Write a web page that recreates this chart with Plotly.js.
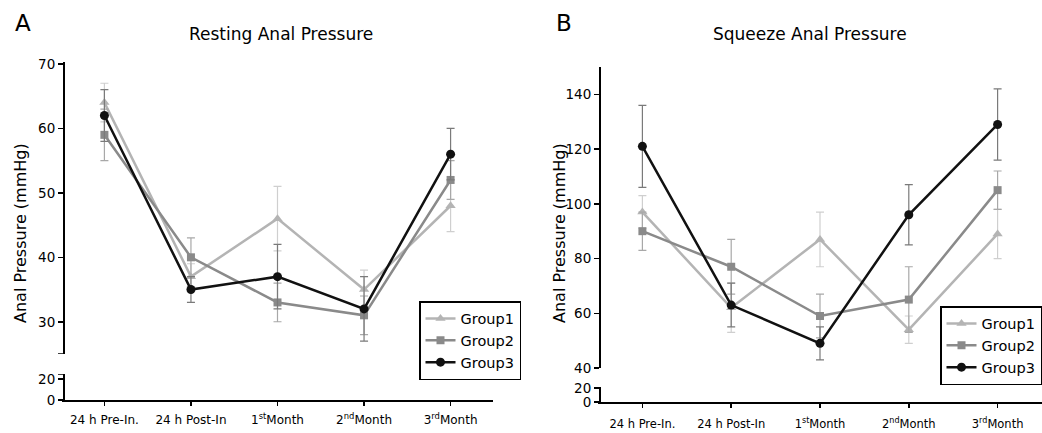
<!DOCTYPE html>
<html>
<head>
<meta charset="utf-8">
<script src="https://cdn.plot.ly/plotly-3.0.1.min.js"></script>
<style>html,body{margin:0;padding:0;background:#fff;}#chart{width:1042px;height:433px;}</style>
</head>
<body>
<div id="chart"></div>
<script>
// ---- data ----
const categories = ['24 h Pre-In.', '24 h Post-In', '1<sup>st</sup>Month', '2<sup>nd</sup>Month', '3<sup>rd</sup>Month'];
const groupNames = ['Group1', 'Group2', 'Group3'];

const restingG1 = [64, 37, 46, 35, 48];
const restingG1Err = [3, 2, 5, 3, 4];
const restingG2 = [59, 40, 33, 31, 52];
const restingG2Err = [4, 3, 3, 3, 3];
const restingG3 = [62, 35, 37, 32, 56];
const restingG3Err = [4, 2, 5, 5, 4];

const squeezeG1 = [97, 62, 87, 54, 89];
const squeezeG1Err = [6, 9, 10, 5, 9];
const squeezeG2 = [90, 77, 59, 65, 105];
const squeezeG2Err = [7, 10, 8, 12, 7];
const squeezeG3 = [121, 63, 49, 96, 129];
const squeezeG3Err = [15, 8, 6, 11, 13];

const restingTicks = [30, 40, 50, 60, 70];
const restingLowTicks = [0, 20];
const squeezeTicks = [40, 60, 80, 100, 120, 140];
const squeezeLowTicks = [0, 20];

// ---- styling ----
const W = 1042, H = 433;
const px = x => x / W;
const py = y => 1 - y / H;
const FONT = 'DejaVu Sans, Arial, sans-serif';

const styles = [
  {line: '#b4b4b4', err: '#cfcfcf', symbol: 'triangle-up', size: 9},
  {line: '#8a8a8a', err: '#a8a8a8', symbol: 'square', size: 8},
  {line: '#111111', err: '#7a7a7a', symbol: 'circle', size: 9}
];

function mk(vals, errs, i, xa, ya, legend) {
  const s = styles[i];
  return {
    type: 'scatter', mode: 'lines+markers',
    x: categories, y: vals,
    xaxis: xa, yaxis: ya,
    name: groupNames[i], legend: legend, showlegend: true,
    line: {color: s.line, width: 2.5},
    marker: {color: s.line, symbol: s.symbol, size: s.size},
    error_y: {type: 'data', array: errs, visible: true, color: s.err, thickness: 1.2, width: 4},
    hoverinfo: 'skip'
  };
}

const traces = [
  mk(restingG1, restingG1Err, 0, 'x', 'y', 'legend'),
  mk(restingG2, restingG2Err, 1, 'x', 'y', 'legend'),
  mk(restingG3, restingG3Err, 2, 'x', 'y', 'legend'),
  mk(squeezeG1, squeezeG1Err, 0, 'x3', 'y3', 'legend2'),
  mk(squeezeG2, squeezeG2Err, 1, 'x3', 'y3', 'legend2'),
  mk(squeezeG3, squeezeG3Err, 2, 'x3', 'y3', 'legend2'),
  {type: 'scatter', x: [], y: [], xaxis: 'x', yaxis: 'y2', showlegend: false},
  {type: 'scatter', x: [], y: [], xaxis: 'x3', yaxis: 'y4', showlegend: false}
];

const axisCommon = {
  showgrid: false, zeroline: false, showline: true, linecolor: '#000', linewidth: 2,
  ticks: 'outside', tickcolor: '#000', tickwidth: 1.5, fixedrange: true
};

// small break marks at the cut ends of the broken y axes
function breakTick(xPix, yref, val) {
  return {type: 'line', xref: 'paper', yref: yref, x0: px(xPix - 6), x1: px(xPix), y0: val, y1: val,
          line: {color: '#000', width: 1.5}};
}

const layout = {
  width: W, height: H,
  margin: {l: 0, r: 0, t: 0, b: 0},
  paper_bgcolor: '#fff', plot_bgcolor: 'rgba(0,0,0,0)',
  font: {family: FONT, color: '#000'},
  showlegend: true,
  xaxis: Object.assign({}, axisCommon, {
    domain: [px(62), px(493)], anchor: 'y2', type: 'category',
    range: [-0.49, 4.49], ticklen: 4, ticklabelstandoff: 4,
    tickfont: {family: FONT, size: 12, color: '#000'}
  }),
  yaxis: Object.assign({}, axisCommon, {
    domain: [py(354), py(62)], anchor: 'free', position: px(64),
    range: [25, 70.3], tickvals: restingTicks, ticklen: 5,
    tickfont: {family: FONT, size: 13.5, color: '#000'}
  }),
  yaxis2: Object.assign({}, axisCommon, {
    domain: [py(400), py(374)], anchor: 'free', position: px(64),
    range: [0, 24.8], tickvals: restingLowTicks, ticklen: 5,
    tickfont: {family: FONT, size: 13.5, color: '#000'}
  }),
  xaxis3: Object.assign({}, axisCommon, {
    domain: [px(598), 1], anchor: 'y4', type: 'category',
    range: [-0.5, 4.5], ticklen: 4, ticklabelstandoff: 6,
    tickfont: {family: FONT, size: 11.5, color: '#000'}
  }),
  yaxis3: Object.assign({}, axisCommon, {
    domain: [py(368), py(67)], anchor: 'free', position: px(600),
    range: [40, 150], tickvals: squeezeTicks, ticklen: 5,
    tickfont: {family: FONT, size: 13.5, color: '#000'}
  }),
  yaxis4: Object.assign({}, axisCommon, {
    domain: [py(402), py(387)], anchor: 'free', position: px(600),
    range: [0, 21.4], tickvals: squeezeLowTicks, ticklen: 5,
    tickfont: {family: FONT, size: 13.5, color: '#000'}
  }),
  legend: {
    x: px(419), y: py(301), xanchor: 'left', yanchor: 'top',
    bgcolor: '#fff', bordercolor: '#000', borderwidth: 1.5,
    font: {family: FONT, size: 14.5, color: '#000'},
    itemwidth: 30, tracegroupgap: 0
  },
  legend2: {
    x: 1, y: py(306), xanchor: 'right', yanchor: 'top',
    bgcolor: '#fff', bordercolor: '#000', borderwidth: 1.5,
    font: {family: FONT, size: 14.5, color: '#000'},
    itemwidth: 30, tracegroupgap: 0
  },
  shapes: [
    breakTick(64, 'y', 25),
    breakTick(64, 'y2', 24.8)
  ],
  annotations: [
    {text: 'A', x: px(23), y: py(23), xref: 'paper', yref: 'paper', showarrow: false,
     xanchor: 'center', yanchor: 'middle', font: {family: FONT, size: 23, color: '#000'}},
    {text: 'B', x: px(564), y: py(23), xref: 'paper', yref: 'paper', showarrow: false,
     xanchor: 'center', yanchor: 'middle', font: {family: FONT, size: 23, color: '#000'}},
    {text: 'Resting Anal Pressure', x: px(281), y: py(34), xref: 'paper', yref: 'paper', showarrow: false,
     xanchor: 'center', yanchor: 'middle', font: {family: FONT, size: 17, color: '#000'}},
    {text: 'Squeeze Anal Pressure', x: px(810), y: py(34), xref: 'paper', yref: 'paper', showarrow: false,
     xanchor: 'center', yanchor: 'middle', font: {family: FONT, size: 17, color: '#000'}},
    {text: 'Anal Pressure (mmHg)', x: px(21), y: py(233), xref: 'paper', yref: 'paper', showarrow: false,
     xanchor: 'center', yanchor: 'middle', textangle: -90, font: {family: FONT, size: 16, color: '#000'}},
    {text: 'Anal Pressure (mmHg)', x: px(560), y: py(233), xref: 'paper', yref: 'paper', showarrow: false,
     xanchor: 'center', yanchor: 'middle', textangle: -90, font: {family: FONT, size: 16, color: '#000'}}
  ]
};

Plotly.newPlot('chart', traces, layout, {displayModeBar: false, staticPlot: true});
</script>
</body>
</html>
